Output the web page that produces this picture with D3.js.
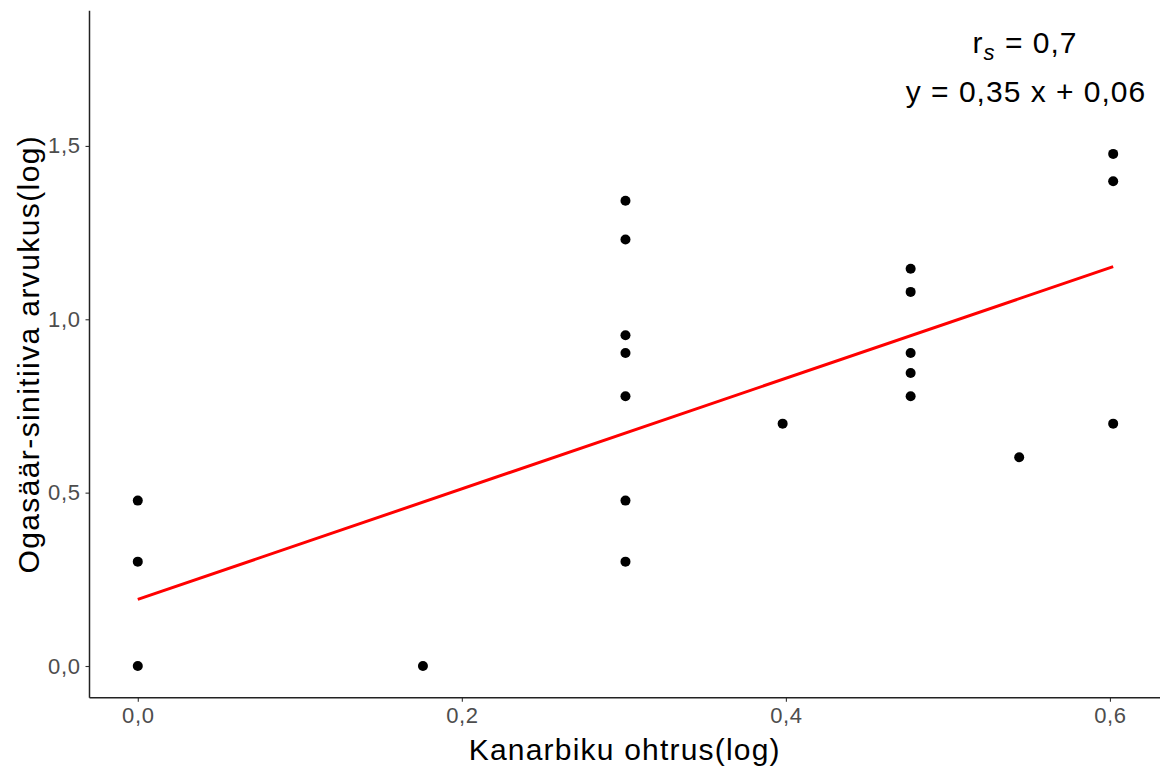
<!DOCTYPE html>
<html>
<head>
<meta charset="utf-8">
<script src="https://cdn.jsdelivr.net/npm/d3@7"></script>
<style>
  body { margin: 0; background: #fff; }
  text { font-family: "Liberation Sans", Arial, sans-serif; }
</style>
</head>
<body>
<script>
const w = 1165;
const h = 769;

// data (log10 values)
const xVals = [0, 0, 0, 0.176, 0.301, 0.301, 0.301, 0.301, 0.301, 0.301, 0.301,
  0.398, 0.477, 0.477, 0.477, 0.477, 0.477, 0.544, 0.602, 0.602, 0.602];
const yVals = [0, 0.301, 0.477, 0, 0.301, 0.477, 0.778, 0.903, 0.954, 1.230, 1.342,
  0.699, 0.778, 0.845, 0.903, 1.079, 1.146, 0.602, 0.699, 1.398, 1.477];
const xTicks = [0, 0.2, 0.4, 0.6];
const yTicks = [0, 0.5, 1.0, 1.5];
// fitted line as drawn
const fitX = [0, 0.602];
const fitY = [0.192, 1.152];

const data = xVals.map((x, i) => ({ x: x, y: yVals[i] }));
const fmt = d => d3.format(".1f")(d).replace(".", ",");

const pLeft = 89.5, pRight = 1160, pTop = 10.7, pBottom = 697.7;

const xScale = d3.scaleLinear()
  .domain([-0.0298, 0.6309])
  .range([pLeft, pRight]);

const yScale = d3.scaleLinear()
  .domain([-0.0914, 1.890])
  .range([pBottom, pTop]);

const svg = d3.select("body")
  .append("svg")
  .attr("width", w)
  .attr("height", h);

// POINTS
svg.selectAll("circle")
  .data(data)
  .enter()
  .append("circle")
  .attr("cx", d => xScale(d.x))
  .attr("cy", d => yScale(d.y))
  .attr("r", 5)
  .attr("fill", "#000");

// FIT LINE
const line = d3.line()
  .x(d => xScale(d[0]))
  .y(d => yScale(d[1]));

svg.append("path")
  .datum(fitX.map((x, i) => [x, fitY[i]]))
  .attr("d", line)
  .attr("fill", "none")
  .attr("stroke", "#FF0000")
  .attr("stroke-width", 3);

// AXES
const xAxis = svg.append("g")
  .attr("transform", `translate(0, ${pBottom})`)
  .call(d3.axisBottom(xScale).tickValues(xTicks).tickFormat(fmt).tickSize(4).tickPadding(6));

const yAxis = svg.append("g")
  .attr("transform", `translate(${pLeft}, 0)`)
  .call(d3.axisLeft(yScale).tickValues(yTicks).tickFormat(fmt).tickSize(4).tickPadding(5));

[xAxis, yAxis].forEach(g => {
  g.select(".domain").remove();
  g.selectAll("line").attr("stroke", "#333").attr("stroke-width", 1.1);
  g.selectAll("text")
    .attr("fill", "#4D4D4D")
    .style("font-size", "22px")
    .style("letter-spacing", "0.6px")
    .style("font-family", "'Liberation Sans', Arial, sans-serif");
});

svg.append("line")
  .attr("x1", pLeft).attr("x2", pLeft)
  .attr("y1", pTop).attr("y2", pBottom)
  .attr("stroke", "#222").attr("stroke-width", 1.5);
svg.append("line")
  .attr("x1", pLeft).attr("x2", pRight)
  .attr("y1", pBottom).attr("y2", pBottom)
  .attr("stroke", "#222").attr("stroke-width", 1.5);

// AXIS TITLES
svg.append("text")
  .attr("x", (pLeft + pRight) / 2)
  .attr("y", 760)
  .attr("text-anchor", "middle")
  .style("font-size", "30px")
  .style("letter-spacing", "1.2px")
  .text("Kanarbiku ohtrus(log)");

svg.append("text")
  .attr("transform", `translate(39, ${(pTop + pBottom) / 2}) rotate(-90)`)
  .attr("text-anchor", "middle")
  .style("font-size", "30px")
  .style("letter-spacing", "1.4px")
  .text("Ogasäär-sinitiiva arvukus(log)");

// ANNOTATION
const ann = svg.append("text")
  .attr("x", 1025)
  .attr("y", 53)
  .attr("text-anchor", "middle")
  .style("font-size", "30px")
  .style("letter-spacing", "1px");
ann.append("tspan").text("r");
ann.append("tspan").attr("dy", 7).style("font-size", "22px").style("font-style", "italic").text("s");
ann.append("tspan").attr("dy", -7).text(" = 0,7");

svg.append("text")
  .attr("x", 1026)
  .attr("y", 102)
  .attr("text-anchor", "middle")
  .style("font-size", "30px")
  .style("letter-spacing", "1px")
  .text("y = 0,35 x + 0,06");
</script>
</body>
</html>
